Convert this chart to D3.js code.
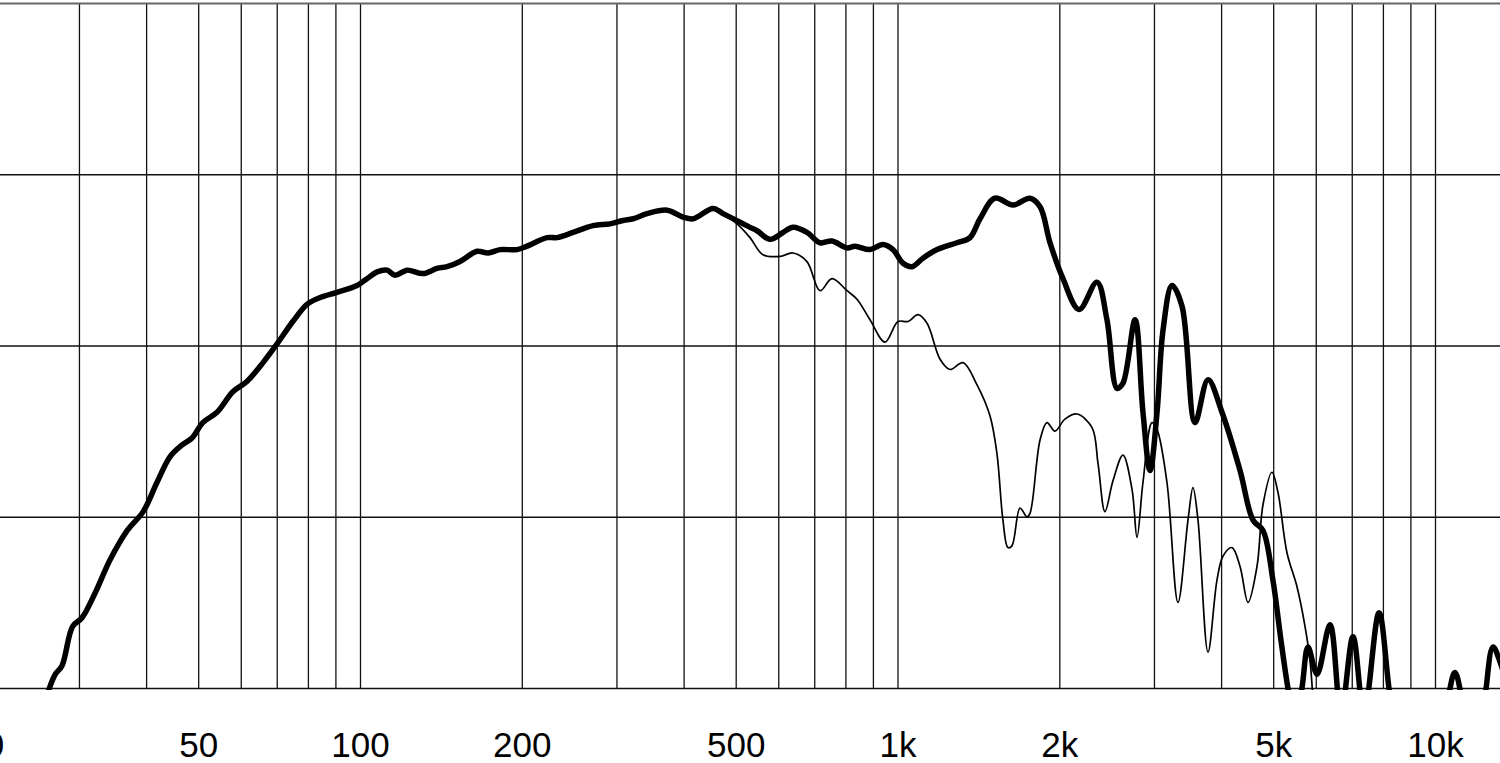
<!DOCTYPE html>
<html>
<head>
<meta charset="utf-8">
<script src="https://cdn.jsdelivr.net/npm/d3@7"></script>
<style>
  body { margin: 0; background: #fff; }
  svg { display: block; }
</style>
</head>
<body>
<svg width="1500" height="763"></svg>
<script>
/* frequency response, on-axis (thick) and off-axis (thin) */

var onAxis = [
  [26.3, 59.8], [27.1, 60.8], [27.9, 61.3], [29.2, 63.6], [30.4, 64.1], [32.1, 65.5],
  [34.3, 67.5], [36.9, 69.2], [39.5, 70.3], [41.9, 72.0], [44.3, 73.5], [46.7, 74.2],
  [48.7, 74.6], [51.0, 75.5], [54.2, 76.1], [58.0, 77.3], [61.6, 77.9], [66.0, 79.0],
  [70.1, 80.1], [75.0, 81.4], [79.7, 82.4], [84.3, 82.8], [90.6, 83.1], [98.7, 83.5],
  [103, 83.9], [107.6, 84.3], [112.3, 84.4], [116.2, 84.1], [122.3, 84.4], [131, 84.2],
  [139.1, 84.5], [145.2, 84.6], [153.5, 84.9], [165.1, 85.5], [173.1, 85.4], [182.2, 85.6],
  [196, 85.6], [204.6, 85.8], [222.8, 86.3], [232.6, 86.3], [249.1, 86.6], [271.4, 87.0],
  [291.9, 87.1], [308.6, 87.3], [322.1, 87.4], [342, 87.7], [372.6, 87.9], [399, 87.5],
  [416.5, 87.4], [453.7, 88.0], [473.6, 87.7], [509.3, 87.2], [531.6, 86.9], [547.8, 86.7],
  [579.2, 86.2], [612.4, 86.6], [639.2, 86.9], [678.6, 86.6], [717.5, 86.0], [755.3, 86.1],
  [805.4, 85.7], [833.5, 85.8], [888.9, 85.6], [939.7, 85.9], [980.8, 85.6], [1024, 84.8],
  [1064, 84.6], [1115, 85.1], [1185, 85.6], [1290, 86.0], [1364, 86.3], [1424, 87.4],
  [1518, 88.6], [1640, 88.2], [1764, 88.6], [1842, 88.1], [1922, 86.0], [2032, 83.9],
  [2177, 82.1], [2350, 83.7], [2453, 81.5], [2561, 77.5], [2627, 77.8], [2767, 81.5],
  [2862, 76.1], [2950, 72.7], [3040, 76.1], [3119, 80.9], [3241, 83.5], [3383, 82.3],
  [3577, 75.5], [3782, 78.0], [4015, 76.1], [4338, 72.7], [4586, 69.8], [4786, 69.2],
  [4994, 66.3], [5169, 62.8], [5326, 60.0], [5489, 58.0], [5656, 60.0], [5804, 62.4],
  [6033, 60.8], [6379, 63.7], [6686, 58.5], [7038, 63.0], [7378, 58.5], [7866, 64.4],
  [8210, 60.0], [8608, 55.0], [9378, 55.0], [10480, 59.0], [10890, 60.9], [11270, 59.0],
  [11820, 55.0], [12390, 59.5], [12820, 62.4], [13220, 61.5], [13790, 59.5]
];

var offAxis = [
  [473.6, 87.7], [502.8, 87.1], [531.6, 86.3], [562, 85.3], [604.6, 85.2], [639.2, 85.4],
  [678.6, 84.9], [717.5, 83.2], [755.3, 83.9], [805.4, 83.2], [840.7, 82.7], [888.9, 81.5],
  [947.8, 80.2], [1002, 81.4], [1046, 81.4], [1092, 81.8], [1135, 81.3], [1200, 79.2],
  [1252, 78.6], [1324, 79.0], [1406, 77.7], [1486, 75.9], [1531, 73.7], [1571, 69.8],
  [1605, 68.2], [1633, 68.3], [1690, 70.5], [1741, 70.0], [1764, 70.2], [1842, 74.5],
  [1897, 75.5], [1963, 75.0], [2049, 75.7], [2158, 76.0], [2301, 75.2], [2361, 73.1],
  [2432, 70.3], [2517, 72.1], [2627, 73.6], [2731, 71.6], [2790, 68.8], [2862, 72.0],
  [2975, 75.5], [3040, 75.1], [3172, 72.0], [3325, 65.0], [3471, 69.8], [3546, 71.7],
  [3623, 69.8], [3782, 62.1], [3930, 66.3], [4033, 67.7], [4191, 68.2], [4338, 67.1],
  [4489, 65.0], [4665, 67.1], [4786, 70.7], [4974, 72.6], [5105, 71.4], [5304, 67.9],
  [5538, 65.9], [5730, 63.6], [5854, 61.6], [5929, 59.3]
];

var gridFreqs = [20, 30, 40, 50, 60, 70, 80, 90, 100, 200, 300, 400, 500, 600, 700, 800, 900,
                 1000, 2000, 3000, 4000, 5000, 6000, 7000, 8000, 9000, 10000, 20000];
var labelFreqs = [20, 50, 100, 200, 500, 1000, 2000, 5000, 10000];
var labelText = ["20", "50", "100", "200", "500", "1k", "2k", "5k", "10k"];
var levelTicks = [60, 70, 80, 90, 100];

var svg = d3.select("svg"),
  width = +svg.attr("width"),
  plotTop = 3,
  plotBottom = 688,
  decade = 537.5,
  x100 = 360;

var x = d3.scaleLog()
  .domain([20, 20000])
  .range([x100 - decade * Math.log10(5), x100 + decade * Math.log10(200)]);

var y = d3.scaleLinear()
  .domain([60, 100])
  .range([plotBottom, plotTop]);

svg.append("defs").append("clipPath")
    .attr("id", "plot-clip")
  .append("rect")
    .attr("x", 0)
    .attr("y", 0)
    .attr("width", width)
    .attr("height", plotBottom + 2);

// vertical grid
svg.append("g")
    .attr("class", "grid")
    .attr("transform", "translate(0," + plotBottom + ")")
    .call(d3.axisBottom(x).tickValues(gridFreqs).tickSize(-(plotBottom - plotTop)).tickFormat(""))
    .call(function(g) { g.select(".domain").remove(); })
    .selectAll("line")
      .attr("stroke", "#111")
      .attr("stroke-width", 1.3);

// horizontal grid
svg.append("g")
    .attr("class", "grid")
    .call(d3.axisLeft(y).tickValues(levelTicks).tickSize(-width).tickFormat(""))
    .call(function(g) { g.select(".domain").remove(); })
    .selectAll("line")
      .attr("stroke", function(d) { return d === 100 ? "#666" : "#111"; })
      .attr("stroke-width", function(d) { return d === 100 ? 2 : 1.3; });

// frequency labels
svg.append("g")
    .attr("transform", "translate(0," + plotBottom + ")")
    .call(d3.axisBottom(x).tickValues(labelFreqs).tickSize(0)
      .tickFormat(function(d, i) { return labelText[i]; }))
    .call(function(g) { g.select(".domain").remove(); })
    .selectAll("text")
      .attr("y", 69)
      .attr("dy", "0")
      .attr("fill", "#000")
      .style("font-family", "'Liberation Sans', Arial, sans-serif")
      .style("font-size", "35px");

var line = d3.line()
  .x(function(d) { return x(d[0]); })
  .y(function(d) { return y(d[1]); })
  .curve(d3.curveCatmullRom.alpha(0.5));

var curves = svg.append("g").attr("clip-path", "url(#plot-clip)");

curves.append("path")
    .datum(offAxis)
    .attr("fill", "none")
    .attr("stroke", "#000")
    .attr("stroke-width", 1.7)
    .attr("stroke-linejoin", "round")
    .attr("d", line);

curves.append("path")
    .datum(onAxis)
    .attr("fill", "none")
    .attr("stroke", "#000")
    .attr("stroke-width", 5.5)
    .attr("stroke-linejoin", "round")
    .attr("stroke-linecap", "round")
    .attr("d", line);
</script>
</body>
</html>
